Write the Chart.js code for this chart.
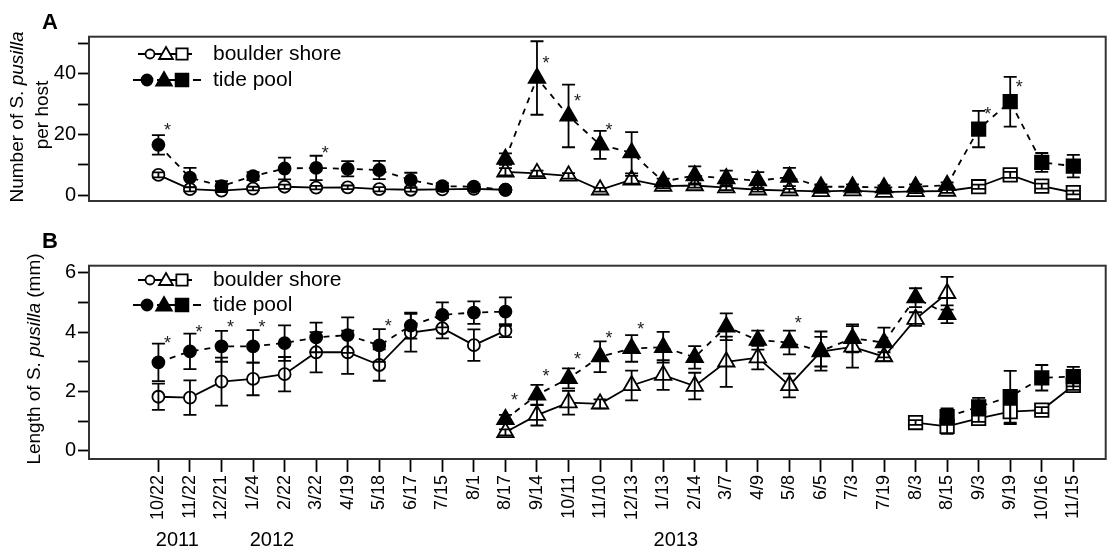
<!DOCTYPE html>
<html>
<head>
<meta charset="utf-8">
<script src="https://cdn.jsdelivr.net/npm/chart.js@4.4.0/dist/chart.umd.min.js"></script>
<style>
  body { margin: 0; background: #fff; }
  #wrapA { position: absolute; left: 0; top: 0; width: 1113px; height: 215px; }
  #wrapB { position: absolute; left: 0; top: 220px; width: 1113px; height: 334px; }
</style>
</head>
<body>
<div id="wrapA"><canvas id="chartA"></canvas></div>
<div id="wrapB"><canvas id="chartB"></canvas></div>
<script>
// sampling dates (shared x axis)
const dates = ['10/22', '11/22', '12/21', '1/24', '2/22', '3/22', '4/19', '5/18', '6/17', '7/15', '8/1',
  '8/17', '9/14', '10/11', '11/10', '12/13', '1/13', '2/14', '3/7', '4/9', '5/8', '6/5', '7/3', '7/19',
  '8/3', '8/15', '9/3', '9/19', '10/16', '11/15'];
const years = ['2011', '2012', '2013'];

// Panel A: number of S. pusilla per host (mean, SE)
// circle cohort, dates 0-11
const aCircBoulder = [6.7, 2.0, 1.5, 2.2, 2.8, 2.5, 2.6, 2.0, 1.8, 1.9, 2.1, 1.8];
const aCircBoulderSE = [0.8, 0.7, 0.5, 0.6, 0.7, 0.6, 0.6, 0.7, 0.6, 0.5, 0.6, 0.6];
const aCircTide = [16.6, 5.8, 3.0, 6.3, 8.8, 9.0, 8.7, 8.3, 5.0, 3.0, 2.8, 1.8];
const aCircTideSE = [3.2, 3.2, 1.6, 1.3, 3.6, 4.0, 2.5, 3.0, 2.4, 1.0, 0.8, 0.8];
// triangle cohort from 8/17, squares from 9/3
const aLateBoulder = [7.7, 7.2, 6.4, 1.8, 5.1, 3.0, 3.2, 2.5, 1.8, 1.5, 1.3, 1.5, 1.0, 1.3, 1.4, 2.8, 6.7, 3.0, 0.9];
const aLateBoulderSE = [1.2, 0.9, 0.9, 0.6, 1.3, 0.7, 0.7, 0.8, 0.6, 0.6, 0.5, 0.6, 0.5, 0.6, 0.6, 0.7, 1.0, 0.8, 0.6];
const aLateTide = [11.9, 38.6, 26.1, 16.6, 14.0, 4.5, 6.5, 5.5, 4.8, 6.0, 2.8, 2.8, 2.5, 2.8, 3.3, 21.8, 30.8, 10.8, 9.6];
const aLateTideSE = [1.9, 12.1, 10.3, 4.6, 6.8, 1.0, 3.0, 2.6, 2.8, 3.0, 0.8, 0.8, 0.7, 0.8, 0.9, 6.0, 8.2, 3.1, 3.7];
const aSquareFrom = 26;
const aStars = [0, 5, 12, 13, 14, 26, 27];
const aYTicks = [0, 10, 20, 30, 40, 50];
const aYLabels = ['0', '', '20', '', '40', ''];

// Panel B: length of S. pusilla (mm)
const bCircBoulder = [1.82, 1.79, 2.33, 2.42, 2.58, 3.32, 3.32, 2.89, 3.98, 4.13, 3.56, 4.05];
const bCircBoulderSE = [0.44, 0.58, 0.81, 0.55, 0.58, 0.68, 0.73, 0.53, 0.64, 0.34, 0.53, 0.22];
const bCircTide = [2.98, 3.35, 3.52, 3.52, 3.63, 3.82, 3.9, 3.55, 4.22, 4.58, 4.66, 4.69];
const bCircTideSE = [0.63, 0.6, 0.52, 0.55, 0.6, 0.5, 0.6, 0.55, 0.44, 0.42, 0.38, 0.48];
const bTriBoulder = [0.62, 1.2, 1.62, 1.58, 2.2, 2.55, 2.18, 3.0, 3.14, 2.2, 3.34, 3.5, 3.17, 4.44, 5.31];
const bTriBoulderSE = [0.1, 0.35, 0.4, 0.15, 0.5, 0.5, 0.45, 0.85, 0.4, 0.4, 0.5, 0.7, 0.15, 0.23, 0.55];
const bTriTide = [1.06, 1.88, 2.44, 3.17, 3.45, 3.49, 3.15, 4.18, 3.73, 3.65, 3.36, 3.79, 3.65, 5.16, 4.6];
const bTriTideSE = [0.15, 0.34, 0.34, 0.52, 0.45, 0.52, 0.38, 0.45, 0.32, 0.4, 0.66, 0.47, 0.5, 0.32, 0.3];
const bSqBoulder = [0.95, 0.82, 1.09, 1.32, 1.37, 2.2];
const bSqBoulderSE = [0.08, 0.25, 0.12, 0.42, 0.1, 0.15];
const bSqTide = [1.15, 1.48, 1.82, 2.46, 2.5];
const bSqTideSE = [0.28, 0.3, 0.87, 0.43, 0.33];
const bCircStars = [0, 1, 2, 3, 7];
const bTriStars = [11, 12, 13, 14, 15, 20];
const bYTicks = [0, 1, 2, 3, 4, 5, 6];
const bYLabels = ['0', '', '2', '', '4', '', '6'];

const FONT = "'Liberation Sans', Arial, sans-serif";

function radiusFor(shape) {
  return shape === 'circle' ? 6 : 9.5;
}

// one line of markers + error bars
function makeSet(site, start, values, se, shape, stars) {
  const tide = site === 'tide pool';
  const shapes = Array.isArray(shape) ? shape : values.map(() => shape);
  return {
    label: site,
    data: values.map((v, k) => ({ x: start + k, y: v })),
    se: se,
    stars: stars || [],
    borderColor: '#000',
    borderWidth: 1.8,
    borderDash: tide ? [6, 6] : [],
    pointStyle: shapes,
    pointRadius: shapes.map(radiusFor),
    pointBorderWidth: 1.8,
    pointBorderColor: '#000',
    pointBackgroundColor: tide ? '#000' : '#fff',
    tension: 0,
    fill: false
  };
}

// plain marker drawing for the legend
function marker(ctx, shape, x, y, r, filled) {
  ctx.beginPath();
  if (shape === 'circle') {
    ctx.arc(x, y, r, 0, Math.PI * 2);
  } else if (shape === 'triangle') {
    ctx.moveTo(x, y - r);
    ctx.lineTo(x + r * 0.866, y + r * 0.5);
    ctx.lineTo(x - r * 0.866, y + r * 0.5);
    ctx.closePath();
  } else {
    const h = r * Math.SQRT1_2;
    ctx.rect(x - h, y - h, 2 * h, 2 * h);
  }
  ctx.fillStyle = filled ? '#000' : '#fff';
  ctx.fill();
  ctx.stroke();
}

function richText(ctx, parts, cx, cy, size) {
  let total = 0;
  parts.forEach(p => {
    ctx.font = (p[1] ? 'italic ' : '') + size + 'px ' + FONT;
    total += ctx.measureText(p[0]).width;
  });
  ctx.save();
  ctx.translate(cx, cy);
  ctx.rotate(-Math.PI / 2);
  ctx.textBaseline = 'middle';
  ctx.textAlign = 'left';
  ctx.fillStyle = '#000';
  let x = -total / 2;
  parts.forEach(p => {
    ctx.font = (p[1] ? 'italic ' : '') + size + 'px ' + FONT;
    ctx.fillText(p[0], x, 0);
    x += ctx.measureText(p[0]).width;
  });
  ctx.restore();
}

const panelDecor = {
  id: 'panelDecor',
  afterDatasetsDraw(chart, args, opts) {
    const ctx = chart.ctx;
    const xs = chart.scales.x, ys = chart.scales.y;
    ctx.save();
    ctx.strokeStyle = '#000';
    ctx.lineWidth = 1.8;
    ctx.setLineDash([]);
    chart.data.datasets.forEach(ds => {
      ds.data.forEach((p, k) => {
        const e = ds.se[k];
        if (!e) return;
        const x = xs.getPixelForValue(p.x);
        const y1 = ys.getPixelForValue(p.y + e);
        const y2 = ys.getPixelForValue(p.y - e);
        ctx.beginPath();
        ctx.moveTo(x, y1); ctx.lineTo(x, y2);
        ctx.moveTo(x - 6.5, y1); ctx.lineTo(x + 6.5, y1);
        ctx.moveTo(x - 6.5, y2); ctx.lineTo(x + 6.5, y2);
        ctx.stroke();
      });
    });
    // significance asterisks
    ctx.fillStyle = '#222';
    ctx.font = '18px ' + FONT;
    ctx.textAlign = 'center';
    ctx.textBaseline = 'middle';
    chart.data.datasets.forEach(ds => {
      ds.stars.forEach(i => {
        const p = ds.data.find(d => d.x === i);
        if (!p) return;
        ctx.fillText('*', xs.getPixelForValue(i) + 9, ys.getPixelForValue(p.y) - opts.starDy);
      });
    });
    ctx.restore();
  },
  afterDraw(chart, args, opts) {
    const ctx = chart.ctx;
    const a = chart.chartArea;
    ctx.save();
    // frame
    ctx.strokeStyle = '#333';
    ctx.lineWidth = 2;
    ctx.strokeRect(a.left, a.top, a.right - a.left + 4, a.bottom - a.top);

    // legend
    const lx = a.left;
    const rows = opts.legendY;
    ctx.lineWidth = 1.8;
    ctx.strokeStyle = '#000';
    ctx.beginPath();
    ctx.moveTo(lx + 49, rows[0]); ctx.lineTo(lx + 103, rows[0]);
    ctx.stroke();
    marker(ctx, 'circle', lx + 61, rows[0], 4.5, false);
    marker(ctx, 'triangle', lx + 77, rows[0] + 1, 8, false);
    marker(ctx, 'rect', lx + 93, rows[0], 8, false);
    ctx.setLineDash([8, 4]);
    ctx.beginPath();
    ctx.moveTo(lx + 44, rows[1]); ctx.lineTo(lx + 112, rows[1]);
    ctx.stroke();
    ctx.setLineDash([]);
    marker(ctx, 'circle', lx + 58, rows[1], 5.5, true);
    marker(ctx, 'triangle', lx + 75, rows[1] + 1, 9, true);
    marker(ctx, 'rect', lx + 93, rows[1], 9, true);
    ctx.fillStyle = '#000';
    ctx.font = '21px ' + FONT;
    ctx.textAlign = 'left';
    ctx.textBaseline = 'middle';
    ctx.fillText('boulder shore', lx + 124, rows[0]);
    ctx.fillText('tide pool', lx + 124, rows[1]);

    // panel letter
    ctx.font = 'bold 22px ' + FONT;
    ctx.textAlign = 'center';
    ctx.fillText(opts.letter, 50, opts.letterY);

    // y axis title
    opts.title.forEach(t => richText(ctx, t.parts, t.x, t.y, 19));

    // years under the date labels
    if (opts.yearAt) {
      ctx.font = '20px ' + FONT;
      ctx.textAlign = 'center';
      years.forEach((yr, k) => {
        ctx.fillText(yr, chart.scales.x.getPixelForValue(opts.yearAt[k]), opts.yearY);
      });
    }
    ctx.restore();
  }
};

function yScale(min, max, ticks, labels) {
  return {
    type: 'linear', min: min, max: max,
    afterBuildTicks: s => { s.ticks = ticks.map(v => ({ value: v })); },
    afterFit: s => { s.width = 89; },
    ticks: { callback: (v, i) => labels[i], font: { size: 20, family: FONT }, color: '#000', padding: 2, autoSkip: false },
    grid: { drawOnChartArea: false, tickLength: 11, tickWidth: 1.8, tickColor: '#000' },
    border: { display: false }
  };
}

const X_MIN = -2.2, X_MAX = 29.9;

const circA = Array(12).fill('circle');
const lateShapesA = aLateBoulder.map((_, k) => (11 + k >= aSquareFrom ? 'rect' : 'triangle'));

new Chart(document.getElementById('chartA'), {
  type: 'line',
  data: {
    datasets: [
      makeSet('tide pool', 0, aCircTide, aCircTideSE, 'circle', aStars),
      makeSet('tide pool', 11, aLateTide, aLateTideSE, lateShapesA, aStars),
      makeSet('boulder shore', 0, aCircBoulder, aCircBoulderSE, 'circle'),
      makeSet('boulder shore', 11, aLateBoulder, aLateBoulderSE, lateShapesA)
    ]
  },
  options: {
    responsive: true,
    maintainAspectRatio: false,
    animation: false,
    events: [],
    layout: { padding: { top: 36.7, right: 0, bottom: 6, left: 0 } },
    scales: {
      x: { type: 'linear', min: X_MIN, max: X_MAX, display: false },
      y: yScale(-1.9, 52.2, aYTicks, aYLabels)
    },
    plugins: {
      legend: { display: false },
      tooltip: { enabled: false },
      panelDecor: {
        letter: 'A', letterY: 23, legendY: [54, 80], starDy: 14,
        title: [
          { parts: [['Number of S. ', false], ['pusilla', true]], x: 18, y: 117 },
          { parts: [['per host', false]], x: 43, y: 115 }
        ]
      }
    }
  },
  plugins: [panelDecor]
});

new Chart(document.getElementById('chartB'), {
  type: 'line',
  data: {
    datasets: [
      makeSet('tide pool', 0, bCircTide, bCircTideSE, 'circle', bCircStars),
      makeSet('tide pool', 11, bTriTide, bTriTideSE, 'triangle', bTriStars),
      makeSet('tide pool', 25, bSqTide, bSqTideSE, 'rect'),
      makeSet('boulder shore', 0, bCircBoulder, bCircBoulderSE, 'circle'),
      makeSet('boulder shore', 11, bTriBoulder, bTriBoulderSE, 'triangle'),
      makeSet('boulder shore', 24, bSqBoulder, bSqBoulderSE, 'rect')
    ]
  },
  options: {
    responsive: true,
    maintainAspectRatio: false,
    animation: false,
    events: [],
    layout: { padding: { top: 45.7, right: 0, bottom: 0, left: 0 } },
    scales: {
      x: {
        type: 'linear', min: X_MIN, max: X_MAX,
        afterBuildTicks: s => { s.ticks = dates.map((d, i) => ({ value: i })); },
        afterFit: s => { s.height = 95; },
        ticks: {
          callback: (v, i) => dates[i], autoSkip: false, minRotation: 90, maxRotation: 90,
          font: { size: 18, family: FONT }, color: '#000', padding: 3
        },
        grid: { drawOnChartArea: false, tickLength: 13, tickWidth: 1.8, tickColor: '#000' },
        border: { display: false }
      },
      y: yScale(-0.28, 6.24, bYTicks, bYLabels)
    },
    plugins: {
      legend: { display: false },
      tooltip: { enabled: false },
      panelDecor: {
        letter: 'B', letterY: 22, legendY: [60, 85], starDy: 18,
        yearAt: [0.6, 3.6, 16.4], yearY: 320,
        title: [
          { parts: [['Length of S. ', false], ['pusilla', true], [' (mm)', false]], x: 35, y: 139 }
        ]
      }
    }
  },
  plugins: [panelDecor]
});
</script>
</body>
</html>
